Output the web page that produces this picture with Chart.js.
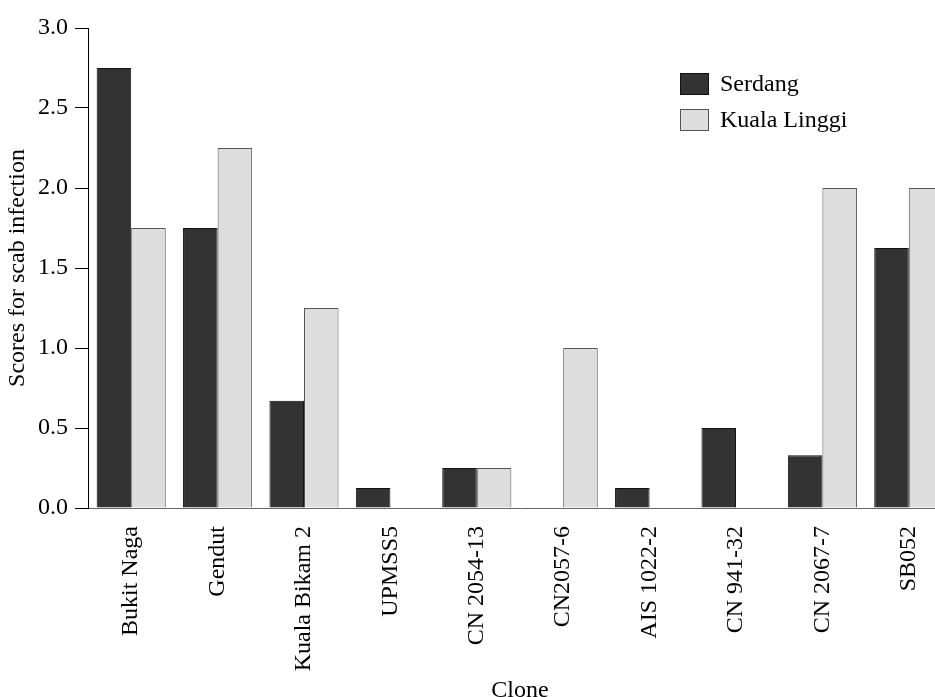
<!DOCTYPE html>
<html>
<head>
<meta charset="utf-8">
<script src="https://cdn.jsdelivr.net/npm/chart.js@4/dist/chart.umd.min.js"></script>
<style>
  html, body { margin: 0; padding: 0; background: #fff; overflow: hidden; }
  canvas { display: block; }
</style>
</head>
<body>
<canvas id="scabChart" width="952" height="697"></canvas>
<script>
// scores
var clones = ['Bukit Naga', 'Gendut', 'Kuala Bikam 2', 'UPMSS5', 'CN 2054-13', 'CN2057-6', 'AIS 1022-2', 'CN 941-32', 'CN 2067-7', 'SB052'];
var serdang = [2.75, 1.75, 0.67, 0.125, 0.25, 0, 0.125, 0.5, 0.33, 1.625];
var kualaLinggi = [1.75, 2.25, 1.25, 0, 0.25, 1.0, 0, 0, 2.0, 2.0];
var seriesNames = ['Serdang', 'Kuala Linggi'];

var serif = "'Liberation Serif', 'DejaVu Serif', serif";

// legend drawn inside the plot, stacked like the original
var boxLegend = {
    id: 'boxLegend',
    afterDraw: function(chart) {
        var c = chart.ctx;
        c.save();
        c.font = '24px ' + serif;
        c.textBaseline = 'middle';
        chart.data.datasets.forEach(function(ds, i) {
            var y = 73 + i * 36;
            c.fillStyle = ds.backgroundColor;
            c.fillRect(680, y, 29, 22);
            c.strokeStyle = ds.borderColor;
            c.lineWidth = 1;
            c.strokeRect(680.5, y + 0.5, 28, 21);
            c.fillStyle = '#000';
            c.fillText(ds.label, 720, y + 12);
        });
        c.restore();
    }
};

var ctx = document.getElementById('scabChart').getContext('2d');
var scabChart = new Chart(ctx, {
    type: 'bar',
    data: {
        labels: clones,
        datasets: [{
            label: seriesNames[0],
            data: serdang,
            backgroundColor: '#333333',
            borderColor: '#111111',
            borderWidth: 1,
            barPercentage: 1.0,
            categoryPercentage: 0.8
        }, {
            label: seriesNames[1],
            data: kualaLinggi,
            backgroundColor: '#dddddd',
            borderColor: '#555555',
            borderWidth: 1,
            barPercentage: 1.0,
            categoryPercentage: 0.8
        }]
    },
    options: {
        responsive: false,
        animation: false,
        layout: { padding: { top: 28, right: 0, bottom: 0, left: 0 } },
        plugins: {
            legend: { display: false },
            tooltip: { enabled: false }
        },
        scales: {
            x: {
                grid: { display: false, drawTicks: false },
                border: { display: true, color: '#666666', width: 1 },
                ticks: {
                    color: '#000',
                    font: { family: serif, size: 24 },
                    maxRotation: 90,
                    minRotation: 90,
                    padding: 18,
                    autoSkip: false
                },
                title: {
                    display: true,
                    text: 'Clone',
                    color: '#000',
                    font: { family: serif, size: 24 },
                    padding: { top: 0, bottom: -8 }
                },
                afterFit: function(scale) {
                    scale.height = 189;
                    scale.paddingLeft = 0;
                    scale.paddingRight = 0;
                }
            },
            y: {
                min: 0,
                max: 3,
                grid: {
                    display: true,
                    drawOnChartArea: false,
                    drawTicks: true,
                    tickLength: 13,
                    color: '#000'
                },
                border: { display: true, color: '#000', width: 1 },
                ticks: {
                    stepSize: 0.5,
                    color: '#000',
                    padding: 7,
                    font: { family: serif, size: 24 },
                    callback: function(v) { return v.toFixed(1); }
                },
                title: {
                    display: true,
                    text: 'Scores for scab infection',
                    color: '#000',
                    font: { family: serif, size: 24 },
                    padding: { top: 3, bottom: 0 }
                },
                afterFit: function(scale) { scale.width = 88; }
            }
        }
    },
    plugins: [boxLegend]
});
</script>
</body>
</html>
